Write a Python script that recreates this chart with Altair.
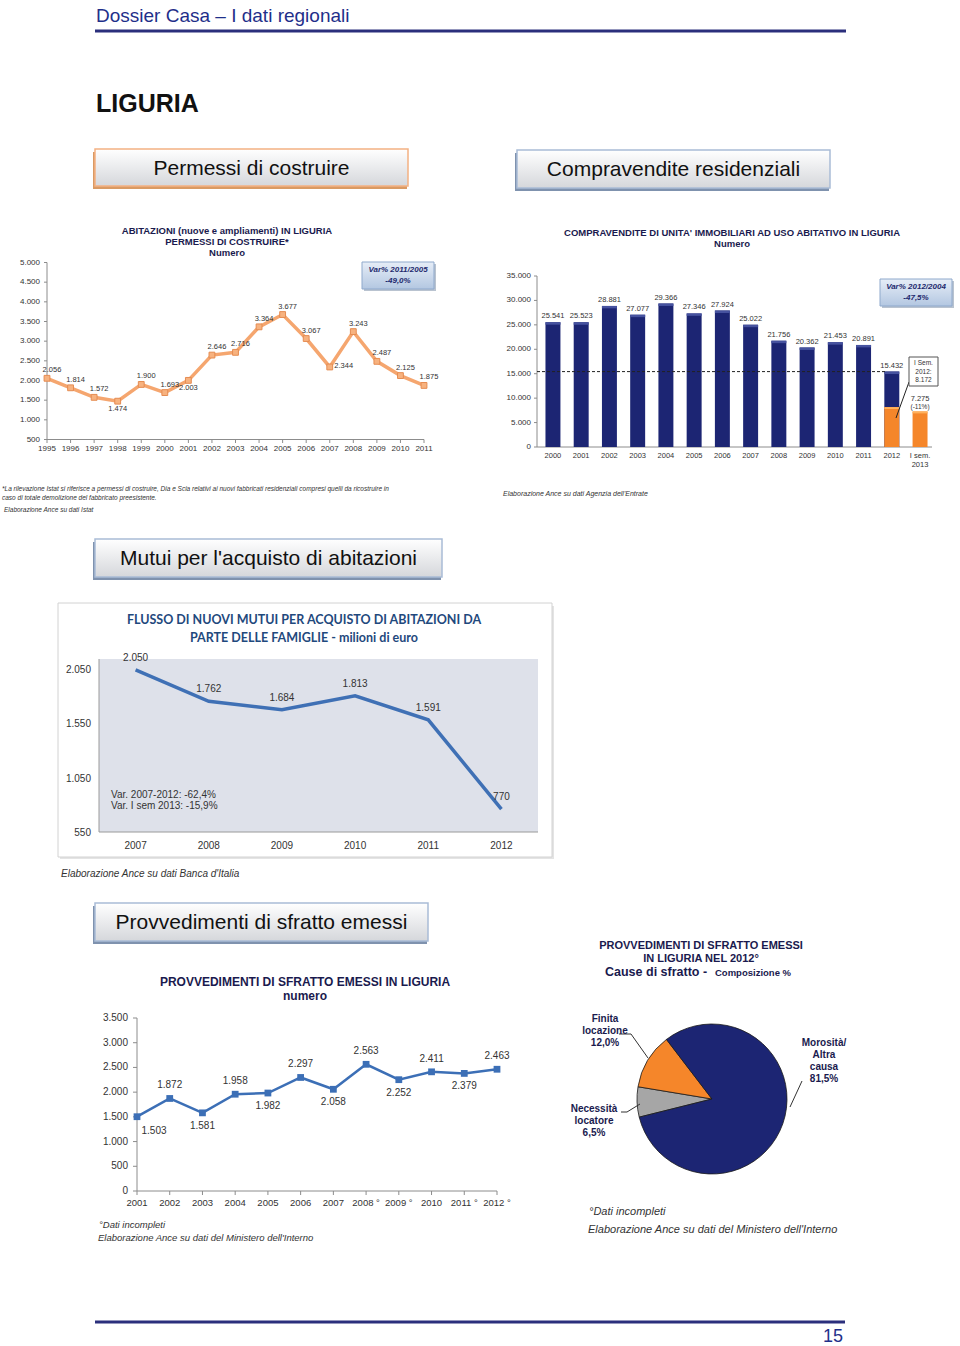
import math
import altair as alt
import pandas as pd

# ---------------- data ----------------
perm_years = list(range(1995, 2012))
perm_values = [2056, 1814, 1572, 1474, 1900, 1693, 2003, 2646, 2716, 3364, 3677, 3067, 2344, 3243, 2487, 2125, 1875]
perm_y_ticks = [500, 1000, 1500, 2000, 2500, 3000, 3500, 4000, 4500, 5000]
perm_below = [1998, 2001]
perm_right = [2007]

comp_cats = [str(y) for y in range(2000, 2013)] + ["I sem. 2013"]
comp_values = [25541, 25523, 28881, 27077, 29366, 27346, 27924, 25022, 21756, 20362, 21453, 20891, 15432, 7275]
comp_sem_cats = ["2012", "I sem. 2013"]
comp_sem_values = [8172, 7275]
comp_y_ticks = [0, 5000, 10000, 15000, 20000, 25000, 30000, 35000]

mutui_years = ["2007", "2008", "2009", "2010", "2011", "2012"]
mutui_values = [2050, 1762, 1684, 1813, 1591, 770]
mutui_y_ticks = [550, 1050, 1550, 2050]

sfr_years = ["2001", "2002", "2003", "2004", "2005", "2006", "2007", "2008 °", "2009 °", "2010", "2011 °", "2012 °"]
sfr_values = [1503, 1872, 1581, 1958, 1982, 2297, 2058, 2563, 2252, 2411, 2379, 2463]
sfr_y_ticks = [0, 500, 1000, 1500, 2000, 2500, 3000, 3500]
sfr_below = ["2003", "2005", "2007", "2009 °", "2011 °"]
sfr_below_right = ["2001"]

pie_causes = ["Necessità locatore", "Finita locazione", "Morosità/ Altra causa"]
pie_values = [6.5, 12.0, 81.5]


# ---------------- helpers ----------------
def it(n):
    return f"{n:,}".replace(",", ".")


def pct(v):
    return f"{v:.1f}".replace(".", ",") + "%"


ONE = pd.DataFrame({"k": [0]})
FONT = "Liberation Sans"
NAVY = "#1C2573"
TITLE_NAVY = "#1A1A4E"
ORANGE = "#F5862A"
AXIS = "#8C8C8C"
LBL = "#333333"


def txt(text, x, y, size=10, color=LBL, weight="normal", style="normal", align="left", font=FONT):
    return alt.Chart(ONE).mark_text(
        fontSize=size, color=color, fontWeight=weight, fontStyle=style, align=align, font=font, baseline="middle"
    ).encode(x=alt.value(x), y=alt.value(y), text=alt.value(text))


def rect(x0, y0, x1, y1, fill="white", stroke=None, sw=1.0):
    kw = dict(fill=fill)
    if stroke:
        kw.update(stroke=stroke, strokeWidth=sw)
    return alt.Chart(ONE).mark_rect(**kw).encode(
        x=alt.value(x0), x2=alt.value(x1), y=alt.value(y0), y2=alt.value(y1)
    )


def seg(x0, y0, x1, y1, color=AXIS, sw=1.0, dash=None):
    kw = dict(color=color, strokeWidth=sw)
    if dash:
        kw["strokeDash"] = dash
    return alt.Chart(ONE).mark_rule(**kw).encode(
        x=alt.value(x0), x2=alt.value(x1), y=alt.value(y0), y2=alt.value(y1)
    )


def grad(c0, c1):
    return alt.LinearGradient(
        gradient="linear",
        stops=[alt.GradientStop(color=c0, offset=0), alt.GradientStop(color=c1, offset=1)],
        x1=0, x2=0, y1=0, y2=1,
    )


def section_box(x0, y0, x1, y1, text, border, shadow):
    return [
        rect(x0 - 2, y0 + 3, x1 - 1, y1 + 3, fill=shadow),
        rect(x0, y0, x1, y1, fill=grad("#FFFFFF", "#D5D7DB"), stroke=border, sw=1.5),
        txt(text, (x0 + x1) / 2, (y0 + y1) / 2 + 1, size=21, color="#111111", align="center"),
    ]


def var_box(x0, y0, x1, y1, lines):
    cx = (x0 + x1) / 2
    out = [
        rect(x0 + 2, y0 + 2, x1 + 2, y1 + 2, fill="#B9C3D0"),
        rect(x0, y0, x1, y1, fill=grad("#E6EDF7", "#B3C7E1"), stroke="#8FA9CC", sw=1),
    ]
    for i, ln in enumerate(lines):
        out.append(txt(ln, cx, y0 + 8 + 11 * i, size=8, color="#1F2A6E", weight="bold", style="italic", align="center"))
    return out


layers = []

# ---------------- page header ----------------
layers += [
    txt("Dossier Casa – I dati regionali", 96, 16, size=19, color="#1F2F8A"),
    seg(95, 31, 846, 31, color="#2B2F7C", sw=3),
    txt("LIGURIA", 96, 104, size=25, color="#111111", weight="bold"),
]
layers += section_box(95, 149, 408, 186, "Permessi di costruire", "#F4B183", "#D99A64")
layers += section_box(517, 150, 830, 188, "Compravendite residenziali", "#A9BCD6", "#7F92AE")
layers += section_box(95, 539, 442, 577, "Mutui per l'acquisto di abitazioni", "#A9BCD6", "#7F92AE")
layers += section_box(95, 903, 428, 941, "Provvedimenti di sfratto emessi", "#A9BCD6", "#7F92AE")

# ---------------- chart 1: permessi ----------------
df1 = pd.DataFrame({"year": perm_years, "value": perm_values})
df1["lab"] = df1["value"].map(it)
df1["pos"] = ["below" if y in perm_below else ("right" if y in perm_right else "above") for y in perm_years]
t1 = pd.DataFrame({"value": perm_y_ticks})
t1["lab"] = t1["value"].map(it)
X1 = alt.X("year:Q", scale=alt.Scale(domain=[1995, 2011], range=[47, 424], nice=False, zero=False), axis=None)
Y1 = alt.Y("value:Q", scale=alt.Scale(domain=[500, 5000], range=[439.5, 262.5], nice=False, zero=False), axis=None)
b1 = alt.Chart(df1)
c1 = alt.layer(
    seg(47, 262.5, 47, 439.5),
    seg(47, 439.5, 424, 439.5),
    alt.Chart(t1).mark_text(align="right", fontSize=8, color=LBL, font=FONT).encode(y=Y1, x=alt.value(40), text="lab:N"),
    alt.Chart(t1).mark_rule(color=AXIS).encode(y=Y1, x=alt.value(44), x2=alt.value(47)),
    b1.mark_rule(color=AXIS).encode(x=X1, y=alt.value(439.5), y2=alt.value(443)),
    b1.mark_text(fontSize=8, color=LBL, font=FONT, baseline="top").encode(x=X1, y=alt.value(445), text="year:N"),
    b1.mark_line(color="#F5A66F", strokeWidth=3.5).encode(x=X1, y=Y1),
    b1.mark_square(size=34, color="#F7B27F", stroke="#E58C52", strokeWidth=1, opacity=1).encode(x=X1, y=Y1),
    b1.transform_filter("datum.pos == 'above'").mark_text(fontSize=7.5, color=LBL, font=FONT, dx=5, dy=-8).encode(x=X1, y=Y1, text="lab:N"),
    b1.transform_filter("datum.pos == 'below'").mark_text(fontSize=7.5, color=LBL, font=FONT, dy=8).encode(x=X1, y=Y1, text="lab:N"),
    b1.transform_filter("datum.pos == 'right'").mark_text(fontSize=7.5, color=LBL, font=FONT, dx=14, dy=-1).encode(x=X1, y=Y1, text="lab:N"),
)
layers.append(c1)
layers += [
    txt("ABITAZIONI  (nuove e ampliamenti)  IN LIGURIA", 227, 231, size=9.5, color=TITLE_NAVY, weight="bold", align="center"),
    txt("PERMESSI DI COSTRUIRE*", 227, 242, size=9.5, color=TITLE_NAVY, weight="bold", align="center"),
    txt("Numero", 227, 253, size=9.5, color=TITLE_NAVY, weight="bold", align="center"),
]
layers += var_box(362, 262, 434, 289, ["Var% 2011/2005", "-49,0%"])

# ---------------- chart 2: compravendite ----------------
df2 = pd.DataFrame({"cat": comp_cats, "value": comp_values})
df2["lab"] = df2["value"].map(it)
df2["xl"] = df2["cat"].str.replace("I sem. ", "I sem.\n", regex=False)
df2s = pd.DataFrame({"cat": comp_sem_cats, "value": comp_sem_values})
t2 = pd.DataFrame({"value": comp_y_ticks})
t2["lab"] = t2["value"].map(it)
X2 = alt.X("cat:N", sort=comp_cats,
           scale=alt.Scale(domain=comp_cats, range=[537, 936], paddingInner=0.47, paddingOuter=0.3), axis=None)
Y2 = alt.Y("value:Q", scale=alt.Scale(domain=[0, 35000], range=[447, 276], nice=False, zero=False), axis=None)
b2 = alt.Chart(df2)
nav = b2.transform_filter(alt.FieldOneOfPredicate(field="cat", oneOf=comp_cats[:-1]))
last = b2.transform_filter(alt.FieldEqualPredicate(field="cat", equal=comp_cats[-1]))
c2 = alt.layer(
    seg(537, 276, 537, 447),
    seg(537, 447, 932, 447),
    alt.Chart(t2).mark_text(align="right", fontSize=8, color=LBL, font=FONT).encode(y=Y2, x=alt.value(531), text="lab:N"),
    alt.Chart(t2).mark_rule(color=AXIS).encode(y=Y2, x=alt.value(534), x2=alt.value(537)),
    b2.mark_text(fontSize=7.5, color=LBL, font=FONT, baseline="top", lineBreak="\n", lineHeight=9).encode(x=X2, y=alt.value(452), text="xl:N"),
    nav.mark_bar(color=NAVY).encode(x=X2, y=Y2),
    nav.transform_calculate(v0="datum.value - 500").mark_bar(color="#46529F").encode(x=X2, y=Y2, y2=alt.Y2("v0:Q")),
    alt.Chart(df2s).mark_bar(color=ORANGE).encode(x=X2, y=Y2),
    alt.Chart(df2s).transform_calculate(v0="datum.value - 400").mark_bar(color="#FFB15C").encode(x=X2, y=Y2, y2=alt.Y2("v0:Q")),
    alt.Chart(pd.DataFrame({"value": [comp_values[-2]]})).mark_rule(color="#222222", strokeDash=[3, 2], strokeWidth=1).encode(
        y=Y2, x=alt.value(537), x2=alt.value(885)),
    nav.mark_text(fontSize=7.5, color=LBL, font=FONT, dy=-6).encode(x=X2, y=Y2, text="lab:N"),
    last.mark_text(fontSize=7.5, color=LBL, font=FONT, dy=-12).encode(x=X2, y=Y2, text="lab:N"),
    last.mark_text(fontSize=6.5, color=LBL, font=FONT, dy=-4).encode(x=X2, y=Y2, text=alt.value("(-11%)")),
)
layers.append(c2)
layers += [
    txt("COMPRAVENDITE DI UNITA' IMMOBILIARI AD USO ABITATIVO IN LIGURIA", 732, 233, size=9.5, color=TITLE_NAVY, weight="bold", align="center"),
    txt("Numero", 732, 244, size=9.5, color=TITLE_NAVY, weight="bold", align="center"),
    seg(909, 382, 896, 418, color="#222222", sw=1),
    rect(909, 357, 938, 386, fill="white", stroke="#555555", sw=1),
    txt("I Sem.", 923.5, 363, size=6.5, align="center"),
    txt("2012:", 923.5, 372, size=6.5, align="center"),
    txt(it(comp_sem_values[0]), 923.5, 380, size=6.5, align="center"),
]
layers += var_box(880, 279, 952, 306, ["Var% 2012/2004", "-47,5%"])

# footnotes top
layers += [
    txt("*La rilevazione Istat si riferisce a permessi di costruire, Dia e Scia relativi ai nuovi fabbricati residenziali compresi quelli da ricostruire in",
        2, 489, size=6.5, style="italic"),
    txt("caso di totale demolizione del fabbricato preesistente.", 2, 498, size=6.5, style="italic"),
    txt("Elaborazione Ance su dati Istat", 4, 510, size=6.5, style="italic"),
    txt("Elaborazione Ance su dati Agenzia dell'Entrate", 503, 494, size=7, style="italic"),
]

# ---------------- chart 3: mutui ----------------
layers += [
    rect(60, 606, 554, 859, fill="#E4E4E4"),
    rect(58, 603, 552, 857, fill="white", stroke="#D2D2D2", sw=1),
    rect(99, 659, 538, 832, fill="#DEE1EA"),
]
df3 = pd.DataFrame({"year": mutui_years, "value": mutui_values})
df3["lab"] = df3["value"].map(it)
t3 = pd.DataFrame({"value": mutui_y_ticks})
t3["lab"] = t3["value"].map(it)
X3 = alt.X("year:N", sort=mutui_years, scale=alt.Scale(type="point", domain=mutui_years, range=[99, 538], padding=0.5), axis=None)
Y3 = alt.Y("value:Q", scale=alt.Scale(domain=[550, 2151], range=[833, 659], nice=False, zero=False), axis=None)
b3 = alt.Chart(df3)
c3 = alt.layer(
    seg(99, 659, 99, 832, color="#9A9A9A"),
    seg(99, 832, 538, 832, color="#9A9A9A"),
    alt.Chart(t3).mark_text(align="right", fontSize=10, color=LBL, font=FONT).encode(y=Y3, x=alt.value(91), text="lab:N"),
    b3.mark_text(fontSize=10, color=LBL, font=FONT).encode(x=X3, y=alt.value(846), text="year:N"),
    b3.mark_line(color="#3F70B5", strokeWidth=3.5).encode(x=X3, y=Y3),
    b3.mark_text(fontSize=10, color=LBL, font=FONT, dy=-12).encode(x=X3, y=Y3, text="lab:N"),
)
layers.append(c3)
layers += [
    txt("FLUSSO DI NUOVI MUTUI PER ACQUISTO DI ABITAZIONI DA", 304, 620, size=12.5, color="#1F497D", weight="bold", align="center", font="Lato"),
    txt("PARTE DELLE FAMIGLIE - milioni di euro", 304, 638, size=12.5, color="#1F497D", weight="bold", align="center", font="Lato"),
    txt("Var. 2007-2012:  -62,4%", 111, 795, size=10),
    txt("Var. I sem 2013:  -15,9%", 111, 806, size=10),
    txt("Elaborazione Ance su dati Banca d'Italia", 61, 874, size=10, style="italic"),
]

# ---------------- chart 4: sfratti ----------------
df4 = pd.DataFrame({"year": sfr_years, "value": sfr_values})
df4["lab"] = df4["value"].map(it)
df4["pos"] = ["br" if y in sfr_below_right else ("below" if y in sfr_below else "above") for y in sfr_years]
t4 = pd.DataFrame({"value": sfr_y_ticks})
t4["lab"] = t4["value"].map(it)
X4 = alt.X("year:N", sort=sfr_years, scale=alt.Scale(type="point", domain=sfr_years, range=[137, 497], padding=0), axis=None)
Y4 = alt.Y("value:Q", scale=alt.Scale(domain=[0, 3500], range=[1191, 1018], nice=False, zero=False), axis=None)
b4 = alt.Chart(df4)
SB = "#3C6FB6"
c4 = alt.layer(
    seg(137, 1018, 137, 1191),
    seg(137, 1191, 497, 1191),
    alt.Chart(t4).mark_text(align="right", fontSize=10, color=LBL, font=FONT).encode(y=Y4, x=alt.value(128), text="lab:N"),
    alt.Chart(t4).mark_rule(color=AXIS).encode(y=Y4, x=alt.value(133), x2=alt.value(137)),
    b4.mark_rule(color=AXIS).encode(x=X4, y=alt.value(1191), y2=alt.value(1195)),
    b4.mark_text(fontSize=9.5, color=LBL, font=FONT).encode(x=X4, y=alt.value(1203), text="year:N"),
    b4.mark_line(color=SB, strokeWidth=2.5).encode(x=X4, y=Y4),
    b4.mark_square(size=46, color=SB, opacity=1).encode(x=X4, y=Y4),
    b4.transform_filter("datum.pos == 'above'").mark_text(fontSize=10, color=LBL, font=FONT, dy=-13).encode(x=X4, y=Y4, text="lab:N"),
    b4.transform_filter("datum.pos == 'below'").mark_text(fontSize=10, color=LBL, font=FONT, dy=13).encode(x=X4, y=Y4, text="lab:N"),
    b4.transform_filter("datum.pos == 'br'").mark_text(fontSize=10, color=LBL, font=FONT, dx=17, dy=14).encode(x=X4, y=Y4, text="lab:N"),
)
layers.append(c4)
layers += [
    txt("PROVVEDIMENTI DI SFRATTO EMESSI  IN LIGURIA", 305, 982, size=12, color=TITLE_NAVY, weight="bold", align="center"),
    txt("numero", 305, 996, size=12, color=TITLE_NAVY, weight="bold", align="center"),
    txt("°Dati incompleti", 99, 1225, size=9.5, style="italic"),
    txt("Elaborazione Ance su dati del Ministero dell'Interno", 98, 1238, size=9.5, style="italic"),
]

# ---------------- pie ----------------
dfp = pd.DataFrame({"cause": pie_causes, "value": pie_values})
dfp["idx"] = range(len(dfp))
start = math.radians(256)
pie = alt.Chart(dfp).mark_arc(outerRadius=75, stroke="#1A1A1A", strokeWidth=0.8).encode(
    theta=alt.Theta("value:Q", stack=True, scale=alt.Scale(domain=[0, 100], range=[start, start + 2 * math.pi])),
    color=alt.Color("cause:N", scale=alt.Scale(domain=pie_causes, range=["#A6A6A6", ORANGE, NAVY]), legend=None),
    order=alt.Order("idx:Q"),
    x=alt.value(712),
    y=alt.value(1099),
)
layers.append(pie)


def pie_label(i, x, y0):
    lines = pie_causes[i].split(" ") + [pct(pie_values[i])]
    return [txt(ln, x, y0 + 12 * k, size=10, color=TITLE_NAVY, weight="bold", align="center") for k, ln in enumerate(lines)]


layers += [
    seg(619, 1034, 631, 1034, color="#333333"),
    seg(631, 1034, 648, 1058, color="#333333"),
    seg(621, 1112, 627, 1112, color="#333333"),
    seg(627, 1112, 640, 1104, color="#333333"),
    seg(802, 1081, 790, 1107, color="#333333"),
]
layers += pie_label(1, 605, 1019)
layers += pie_label(0, 594, 1109)
layers += pie_label(2, 824, 1043)
layers += [
    txt("PROVVEDIMENTI  DI SFRATTO EMESSI", 701, 946, size=11, color=TITLE_NAVY, weight="bold", align="center"),
    txt("IN LIGURIA NEL 2012°", 701, 959, size=11, color=TITLE_NAVY, weight="bold", align="center"),
    txt("Cause di sfratto -", 605, 972, size=12.5, color=TITLE_NAVY, weight="bold"),
    txt("Composizione %", 715, 973, size=9.5, color=TITLE_NAVY, weight="bold"),
    txt("°Dati incompleti", 589, 1212, size=11, style="italic"),
    txt("Elaborazione Ance su dati del Ministero dell'Interno", 588, 1230, size=11, style="italic"),
]

# ---------------- page footer ----------------
layers += [
    seg(95, 1322, 845, 1322, color="#2B2F7C", sw=3),
    txt("15", 833, 1337, size=18, color="#1F2F8A", align="center"),
]

chart = (
    alt.layer(*layers)
    .resolve_scale(x="independent", y="independent")
    .properties(width=960, height=1346, autosize=alt.AutoSizeParams(type="none"), padding=0, background="white")
    .configure_view(stroke=None)
)

chart.save("out.html", embed_options={"renderer": "svg", "actions": False})
